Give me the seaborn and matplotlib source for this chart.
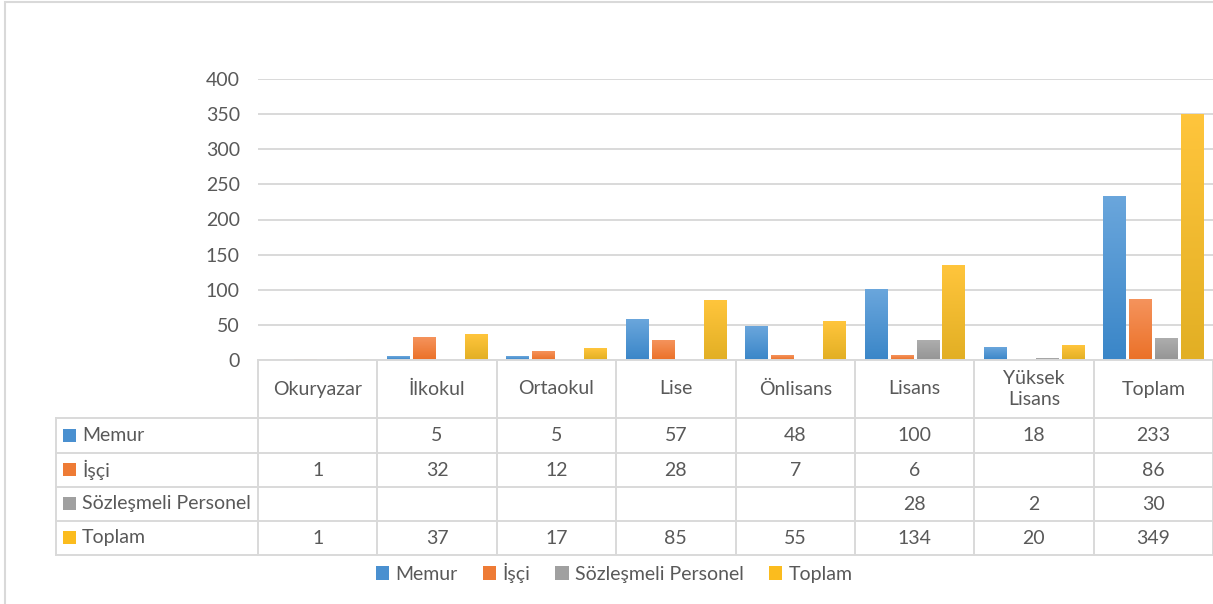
import numpy as np
import pandas as pd
import matplotlib
matplotlib.use("Agg")
import matplotlib.pyplot as plt
import matplotlib.colors as mcolors
from matplotlib.lines import Line2D
from matplotlib.patches import Rectangle
import seaborn as sns

# Veriler
categories = ["Okuryazar", "İlkokul", "Ortaokul", "Lise", "Önlisans", "Lisans", "Yüksek\nLisans", "Toplam"]
series_names = ["Memur", "İşçi", "Sözleşmeli Personel", "Toplam"]
memur = [np.nan, 5, 5, 57, 48, 100, 18, 233]
isci = [1, 32, 12, 28, 7, 6, np.nan, 86]
sozlesmeli = [np.nan, np.nan, np.nan, np.nan, np.nan, 28, 2, 30]
toplam = [1, 37, 17, 85, 55, 134, 20, 349]
yticks = [0, 50, 100, 150, 200, 250, 300, 350, 400]

colors = ["#4A90D0", "#EE7B35", "#A0A0A0", "#FBBC1E"]
grad_top = ["#6AA6DC", "#F5935C", "#ADADAD", "#FFC53C"]
grad_bot = ["#3A86C8", "#EB7128", "#959595", "#E2AF24"]

values = [memur, isci, sozlesmeli, toplam]
df = pd.DataFrame({
    "kategori": categories * 4,
    "seri": [s for s in series_names for _ in categories],
    "deger": [v for vals in values for v in vals],
})

W, H = 1213, 604
plt.rcParams["font.family"] = ["Lato", "DejaVu Sans"]
txt = "#595959"
grid_c = "#D9D9D9"
fs = 14

fig = plt.figure(figsize=(W / 100, H / 100), dpi=100)

def fx(x):
    return x / W

def fy(y):
    return 1 - y / H

left, right, top, bottom = 258, 1213, 79, 360
ax = fig.add_axes([fx(left), fy(bottom), fx(right - left), (bottom - top) / H])

sns.barplot(data=df, x="kategori", y="deger", hue="seri", hue_order=series_names,
            order=categories, palette=colors, width=0.87, gap=0.15, ax=ax,
            legend=False, saturation=1, zorder=3)

ax.set_ylim(0, 400)
ax.set_xlim(-0.5, len(categories) - 0.5)
ax.set_yticks(yticks)
ax.set_yticklabels([str(t) for t in yticks], fontsize=fs, color=txt)
ax.tick_params(axis="y", length=0, pad=13)
ax.set_xticks([])
ax.set_xlabel("")
ax.set_ylabel("")
for s in ax.spines.values():
    s.set_visible(False)
ax.grid(axis="y", color=grid_c, linewidth=1.4, zorder=0)
ax.set_axisbelow(True)

# gradient dolgular (renge göre seri bulunur)
n = len(categories)
base = [np.array(mcolors.to_rgb(c)) for c in colors]
for bar in list(ax.patches):
    h = bar.get_height()
    if not np.isfinite(h) or h <= 0:
        continue
    fc = np.array(bar.get_facecolor()[:3])
    k = int(np.argmin([np.abs(fc - b).sum() for b in base]))
    c1 = np.array(mcolors.to_rgb(grad_top[k]))
    c2 = np.array(mcolors.to_rgb(grad_bot[k]))
    t = np.linspace(0, 1, 64)[:, None]
    img = (c1 * (1 - t) + c2 * t)[:, None, :]
    ax.imshow(img, extent=[bar.get_x(), bar.get_x() + bar.get_width(), 0, h],
              aspect="auto", zorder=4, interpolation="bilinear")
ax.set_xlim(-0.5, n - 0.5)
ax.set_ylim(0, 400)

# veri tablosu
col_w = (right - left) / n
row_lines = [418, 453, 487, 521, 555]
tab_left = 56
fig.add_artist(Line2D([fx(left), fx(right)], [fy(bottom), fy(bottom)], color=grid_c, lw=1.4))
for y in row_lines:
    fig.add_artist(Line2D([fx(tab_left), fx(right)], [fy(y), fy(y)], color=grid_c, lw=1.4))
fig.add_artist(Line2D([fx(tab_left), fx(tab_left)], [fy(row_lines[0]), fy(row_lines[-1])], color=grid_c, lw=1.4))
for i in range(n + 1):
    x = left + i * col_w
    fig.add_artist(Line2D([fx(x), fx(x)], [fy(bottom), fy(row_lines[-1])], color=grid_c, lw=1.4))

for i, cat in enumerate(categories):
    cx = left + (i + 0.5) * col_w
    fig.text(fx(cx), fy(389), cat, ha="center", va="center", fontsize=fs, color=txt,
             linespacing=1.3)

for r, (name, vals) in enumerate(zip(series_names, values)):
    cy = (row_lines[r] + row_lines[r + 1]) / 2
    fig.add_artist(Rectangle((fx(63), fy(cy + 6)), fx(13), 13 / H, color=colors[r], lw=0))
    fig.text(fx(82), fy(cy), name, ha="left", va="center", fontsize=fs, color=txt)
    for i, v in enumerate(vals):
        if np.isfinite(v):
            cx = left + (i + 0.5) * col_w
            fig.text(fx(cx), fy(cy), f"{int(v)}", ha="center", va="center", fontsize=fs, color=txt)

# lejant
handles = [Rectangle((0, 0), 1, 1, color=c, lw=0) for c in colors]
fig.legend(handles, series_names, loc="center", bbox_to_anchor=(fx(614), fy(573)), ncol=4,
           frameon=False, fontsize=fs, labelcolor=txt, handlelength=0.7, handleheight=0.7,
           handletextpad=0.3, columnspacing=1.3)

# çerçeve
fig.add_artist(Rectangle((fx(5), fy(H + 5)), 1.2, (H + 3) / H, fill=False, edgecolor=grid_c, lw=1.5))

fig.savefig("out.png", dpi=100)
